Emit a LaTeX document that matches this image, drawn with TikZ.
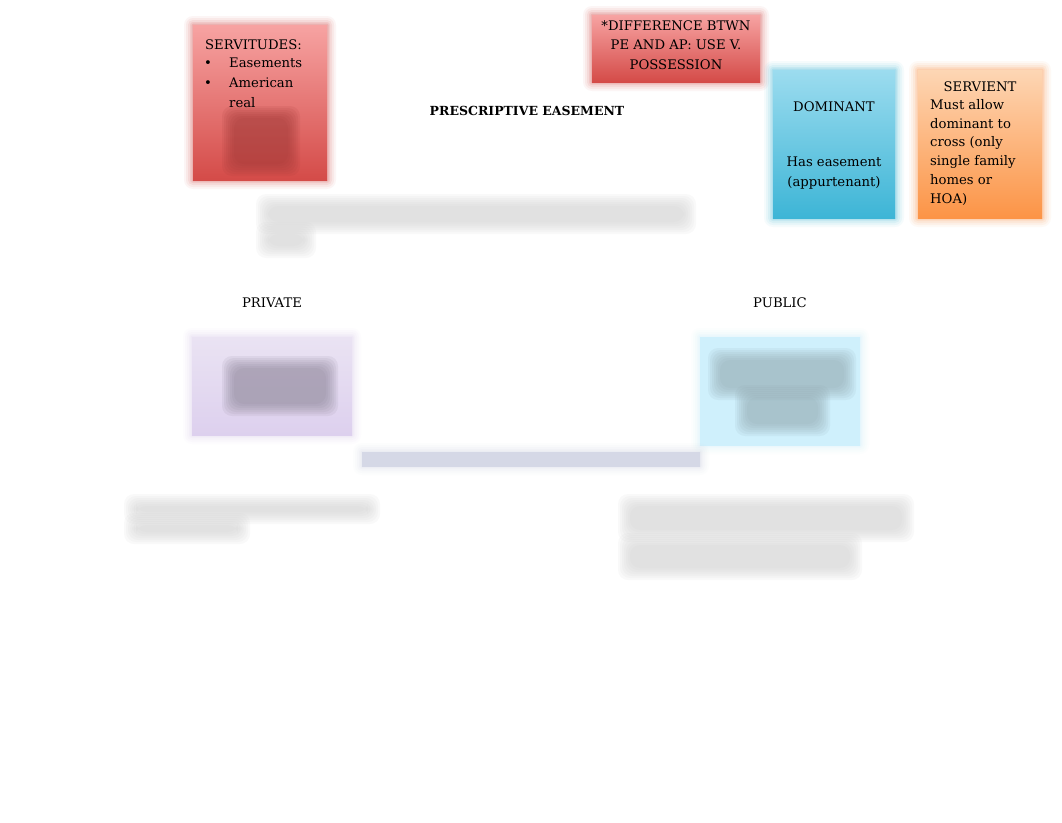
\documentclass[tikz,border=0pt]{standalone}
\usepackage{fontspec}
\setmainfont{DejaVu Serif}
\definecolor{redtop}{HTML}{F7A3A2}
\definecolor{redbot}{HTML}{D44B48}
\definecolor{cyantop}{HTML}{9CDCEF}
\definecolor{cyanbot}{HTML}{3DB5D6}
\definecolor{orgtop}{HTML}{FDD6B4}
\definecolor{orgbot}{HTML}{FC9446}
\definecolor{lavtop}{HTML}{EAE3F3}
\definecolor{lavbot}{HTML}{DDD0EE}
\definecolor{ltblue}{HTML}{CFF0FC}
\definecolor{barcol}{HTML}{D5D8E6}
\definecolor{blurgrey}{HTML}{CFCFCF}
\newcommand\softbox[6]{%
  \foreach \e/\o in {9/0.05,7/0.07,5/0.09,3/0.12,1.5/0.18}{%
    \fill[#6,opacity=\o,rounded corners=\e pt] (#1-\e,#2-\e) rectangle (#3+\e,#4+\e);}%
  \shade[top color=#5,bottom color=#6] (#1,#2) rectangle (#3,#4);}
\newcommand\smudge[5]{%
  \foreach \e in {0,2,4,6,8,10,12}{%
    \fill[#5,opacity=0.11,rounded corners=10pt] (#1+\e,#2+\e) rectangle (#3-\e,#4-\e);}}
\tikzset{
  txt/.style={inner sep=0pt,font=\fontsize{13.2}{19.5}\selectfont,text=black},
  hdr/.style={txt,font=\fontsize{12.5}{19}\selectfont\bfseries}
}
\begin{document}
\begin{tikzpicture}[x=1pt,y=-1pt]
\useasboundingbox[fill=white] (0,0) rectangle (1062,822);
% boxes
\softbox{193}{25}{327}{180}{redtop}{redbot}
\smudge{222}{106}{300}{176}{black!25!redbot}
\softbox{592}{15}{760}{82}{redtop}{redbot}
\softbox{773}{70}{895}{218}{cyantop}{cyanbot}
\softbox{918}{70}{1042}{218}{orgtop}{orgbot}
\softbox{192}{337}{352}{435}{lavtop}{lavbot}
\smudge{222}{356}{338}{416}{black!40!lavbot}
\softbox{700}{337}{860}{445}{ltblue}{ltblue}
\smudge{708}{348}{856}{400}{black!32!ltblue}
\smudge{735}{385}{830}{436}{black!32!ltblue}
\softbox{362}{452}{700}{466}{barcol}{barcol}
% blurred text lines
\smudge{256}{194}{696}{234}{blurgrey}
\smudge{256}{222}{316}{258}{blurgrey}
\smudge{124}{494}{380}{524}{blurgrey}
\smudge{124}{513}{250}{544}{blurgrey}
\smudge{618}{494}{914}{542}{blurgrey}
\smudge{618}{533}{862}{580}{blurgrey}
% texts
\node[txt,anchor=base west] (servt) at (205,49) {SERVITUDES:};
\node[txt,anchor=base] (b1) at (208,67) {\textbullet};
\node[txt,anchor=base west] (s1) at (229,67) {Easements};
\node[txt,anchor=base] (b2) at (208,87) {\textbullet};
\node[txt,anchor=base west] (s2) at (229,87) {American};
\node[txt,anchor=base west] (s3) at (229,107) {real};
\node[txt,align=center] (diff) at (676,45) {*DIFFERENCE BTWN\\PE AND AP: USE V.\\POSSESSION};
\node[txt] (dom) at (834,107) {DOMINANT};
\node[txt,align=center] (has) at (834,173) {Has easement\\(appurtenant)};
\node[txt] (serv) at (980,87) {SERVIENT};
\node[txt,align=left,anchor=north west,font=\fontsize{13.2}{18.8}\selectfont] (must) at (930,99) {Must allow\\dominant to\\cross (only\\single family\\homes or\\HOA)};
\node[hdr] (title) at (527,111) {PRESCRIPTIVE EASEMENT};
\node[txt] (priv) at (272,303) {PRIVATE};
\node[txt] (pub) at (780,303) {PUBLIC};
\end{tikzpicture}
\end{document}
